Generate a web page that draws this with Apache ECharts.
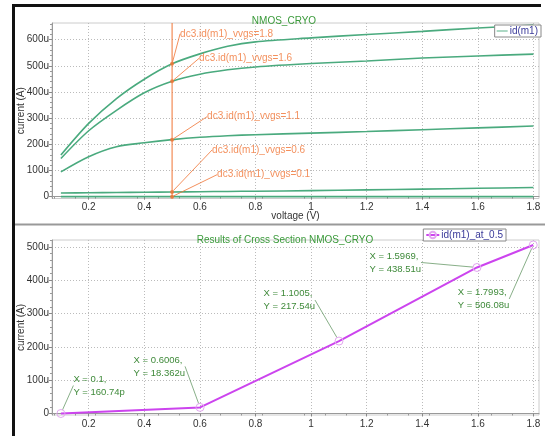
<!DOCTYPE html>
<html>
<head>
<meta charset="utf-8">
<script src="https://cdn.jsdelivr.net/npm/echarts/dist/echarts.min.js"></script>
<style>html,body{margin:0;padding:0;background:#fff;}#c{width:545px;height:436px;}</style>
</head>
<body>
<div id="c"></div>
<script>
// ---------- data ----------
const voltage = [0.1, 0.2, 0.3, 0.4, 0.5, 0.6, 0.7, 0.8, 1.0, 1.2, 1.4, 1.6, 1.8];
const id_vgs18 = [159, 280, 375, 449, 508, 546, 575, 592, 607, 620, 632, 645, 656];
const id_vgs16 = [146, 252, 330, 397, 441, 468, 485, 496, 509, 519, 530, 538, 545];
const id_vgs11 = [95, 153, 191, 206, 218, 227, 233, 237, 243, 249, 256, 263, 270];
const id_vgs06 = [14, 15, 16, 17, 18, 19, 20, 21, 23, 26, 29, 32, 35];
const id_vgs01 = [0, 0, 0, 0, 0, 0, 0, 0, 0, 0, 0, 0, 0];
const cursorX = 0.5;
const cursorLabels = ['dc3.id(m1)_vvgs=1.8', 'dc3.id(m1)_vvgs=1.6', 'dc3.id(m1)_vvgs=1.1', 'dc3.id(m1)_vvgs=0.6', 'dc3.id(m1)_vvgs=0.1'];

const vgs = [0.1, 0.6006, 1.1005, 1.5969, 1.7993];
const idAt05 = [0.00016074, 18.362, 217.54, 438.51, 506.08];
const crossLabels = ['X = 0.1,\nY = 160.74p', 'X = 0.6006,\nY = 18.362u', 'X = 1.1005,\nY = 217.54u', 'X = 1.5969,\nY = 438.51u', 'X = 1.7993,\nY = 506.08u'];

const xTicks = [0.2, 0.4, 0.6, 0.8, 1, 1.2, 1.4, 1.6, 1.8];
const yTicksTop = [0, 100, 200, 300, 400, 500, 600];
const yTicksBottom = [0, 100, 200, 300, 400, 500];

// ---------- styling / layout ----------
const FONT = 'Liberation Sans, Arial, sans-serif';
const GREEN = '#4aaa7e';
const ORANGE = '#f07434';
const MAGENTA = '#cc44ee';
const X_MIN = 0.068, X_MAX = 1.82;
const Y1_MIN = -7, Y1_MAX = 664;
const Y2_MIN = -4.5, Y2_MAX = 521;
const cursorOffsets = [[6, -30], [25, -23], [33, -23], [38, -42], [43, -22]];
const crossOffsets = [[8, -28], [-71, -41], [-80, -41], [-112, -5], [-80, 54]];

const idx05 = voltage.indexOf(cursorX);
const curves = [id_vgs18, id_vgs16, id_vgs11, id_vgs06, id_vgs01];
const cursorData = curves.map(c => [cursorX, c[idx05]]);

function zip(xs, ys) { return xs.map((x, i) => [x, ys[i]]); }
const uFmt = v => v === 0 ? '0' : v + 'u';

function xAxisCfg(gi, name) {
  return {
    type: 'value', gridIndex: gi, min: X_MIN, max: X_MAX,
    name: name, nameLocation: 'middle', nameGap: 13, nameMoveOverlap: false,
    nameTextStyle: { fontFamily: FONT, fontSize: 10, color: '#333' },
    axisLine: { show: true, lineStyle: { color: '#999', width: 1 } },
    axisTick: { show: true, customValues: xTicks, length: 3, lineStyle: { color: '#888' } },
    minorTick: { show: true, splitNumber: 4, length: 2, lineStyle: { color: '#999' } },
    axisLabel: { customValues: xTicks, margin: 4, fontFamily: FONT, fontSize: 10, color: '#333' },
    splitLine: { show: true, lineStyle: { color: '#bbb', type: [1, 2], width: 1 } }
  };
}
function yAxisCfg(gi, min, max, ticks) {
  return {
    type: 'value', gridIndex: gi, min: min, max: max,
    name: 'current (A)', nameLocation: 'middle', nameGap: 26, nameMoveOverlap: false,
    nameTextStyle: { fontFamily: FONT, fontSize: 10, color: '#333' },
    axisLine: { show: true, lineStyle: { color: '#999', width: 1 } },
    axisTick: { show: true, customValues: ticks, length: 3, lineStyle: { color: '#888' } },
    minorTick: { show: true, splitNumber: 5, length: 2, lineStyle: { color: '#999' } },
    axisLabel: { customValues: ticks, margin: 3, formatter: uFmt, fontFamily: FONT, fontSize: 10, color: '#333' },
    splitLine: { show: true, lineStyle: { color: '#bbb', type: [1, 2], width: 1 } }
  };
}

const curveSeries = curves.map(c => ({
  name: 'id(m1)', type: 'line', xAxisIndex: 0, yAxisIndex: 0,
  data: zip(voltage, c), smooth: 0.3, showSymbol: false, symbol: 'none',
  lineStyle: { color: GREEN, width: 1.6 }, itemStyle: { color: GREEN },
  silent: true, z: 2
}));

const option = {
  animation: false,
  backgroundColor: '#fff',
  graphic: [
    { type: 'rect', shape: { x: 12, y: 4, width: 3, height: 432 }, style: { fill: '#111' }, z: 100 },
    { type: 'rect', shape: { x: 12, y: 4, width: 529, height: 3 }, style: { fill: '#111' }, z: 100 },
    { type: 'rect', shape: { x: 15, y: 223.5, width: 530, height: 2 }, style: { fill: '#999' }, z: 100 }
  ],
  title: [
    { text: 'NMOS_CRYO', left: 279, top: 11, textAlign: 'center',
      textStyle: { fontFamily: FONT, fontSize: 10, fontWeight: 'normal', color: '#3a9a3a' } },
    { text: 'Results of Cross Section NMOS_CRYO', left: 280, top: 230, textAlign: 'center',
      textStyle: { fontFamily: FONT, fontSize: 10, fontWeight: 'normal', color: '#3a9a3a' } }
  ],
  legend: [
    { data: ['id(m1)'], right: 4, top: 25, orient: 'vertical', itemWidth: 11, itemHeight: 8, itemGap: 2,
      padding: [1, 3, 1, 2], borderColor: '#888', borderWidth: 1, backgroundColor: '#fff',
      textStyle: { fontFamily: FONT, fontSize: 10, color: '#3a3a9a', padding: [0, 0, 0, -3] } },
    { data: ['id(m1)_at_0.5'], right: 39, top: 229, orient: 'vertical', itemWidth: 13, itemHeight: 8, itemGap: 2,
      padding: [1, 3, 1, 2], borderColor: '#888', borderWidth: 1, backgroundColor: '#fff',
      textStyle: { fontFamily: FONT, fontSize: 10, color: '#3a3a9a', padding: [0, 0, 0, -3] } }
  ],
  grid: [
    { left: 52, right: 6, top: 23, height: 175.5, show: true, borderColor: '#ccc', borderWidth: 1, backgroundColor: 'transparent' },
    { left: 52, right: 6, top: 240, height: 175, show: true, borderColor: '#ccc', borderWidth: 1, backgroundColor: 'transparent' }
  ],
  xAxis: [xAxisCfg(0, 'voltage (V)'), xAxisCfg(1, '')],
  yAxis: [yAxisCfg(0, Y1_MIN, Y1_MAX, yTicksTop), yAxisCfg(1, Y2_MIN, Y2_MAX, yTicksBottom)],
  series: curveSeries.concat([
    {
      name: 'cursorLine', type: 'line', xAxisIndex: 0, yAxisIndex: 0,
      data: [[cursorX, Y1_MIN], [cursorX, Y1_MAX]], symbol: 'none',
      lineStyle: { color: ORANGE, width: 1 }, itemStyle: { color: ORANGE },
      silent: true, z: 4
    },
    {
      name: 'cursor', type: 'scatter', xAxisIndex: 0, yAxisIndex: 0,
      data: cursorData, symbol: 'circle', symbolSize: 4,
      itemStyle: { color: ORANGE }, z: 5, silent: true,
      label: {
        show: true, position: 'right', distance: 0,
        formatter: p => cursorLabels[p.dataIndex],
        fontFamily: FONT, fontSize: 10, color: ORANGE
      },
      labelLayout: p => ({ dx: cursorOffsets[p.dataIndex][0], dy: cursorOffsets[p.dataIndex][1] }),
      labelLine: { show: true, lineStyle: { color: ORANGE, width: 0.8 } }
    },
    {
      name: 'id(m1)_at_0.5', type: 'line', xAxisIndex: 1, yAxisIndex: 1,
      data: zip(vgs, idAt05), symbol: 'circle', symbolSize: 8, showSymbol: true,
      lineStyle: { color: MAGENTA, width: 2 },
      itemStyle: { color: 'rgba(0,0,0,0)', borderColor: '#e3a8f0', borderWidth: 1 },
      z: 5, silent: true,
      label: {
        show: true, position: 'right', distance: 0,
        formatter: p => crossLabels[p.dataIndex],
        fontFamily: FONT, fontSize: 9.5, lineHeight: 13, color: '#3f8a3a'
      },
      labelLayout: p => ({ dx: crossOffsets[p.dataIndex][0], dy: crossOffsets[p.dataIndex][1] }),
      labelLine: { show: true, lineStyle: { color: '#6a9a6a', width: 0.8 } }
    }
  ])
};
option.legend[0].data = [{ name: 'id(m1)', icon: 'path://M0,4 L12,4 L12,5 L0,5 Z', itemStyle: { color: GREEN } }];
option.legend[1].data = [{ name: 'id(m1)_at_0.5' }];

const chart = echarts.init(document.getElementById('c'), null, { renderer: 'canvas' });
chart.setOption(option);
</script>
</body>
</html>
